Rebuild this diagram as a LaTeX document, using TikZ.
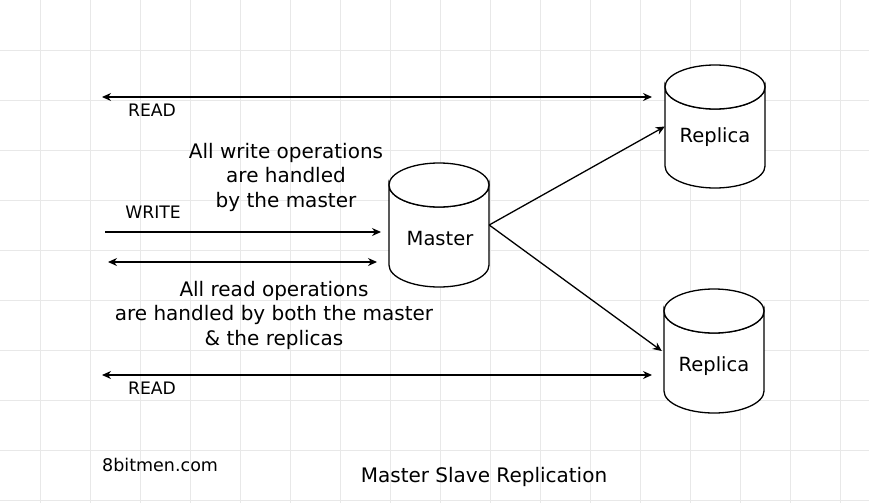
\documentclass[tikz,border=0pt]{standalone}
\usepackage{fontspec}
\setmainfont{DejaVu Sans}
\usetikzlibrary{arrows.meta}
\begin{document}
\begin{tikzpicture}[x=1pt,y=-1pt,
  gridline/.style={draw=black!9,line width=0.8pt},
  conn/.style={draw=black,line width=1.3pt,-{Stealth[length=9pt,width=8pt]}},
  dconn/.style={draw=black,line width=1.3pt,{Stealth[length=9pt,width=8pt]}-{Stealth[length=9pt,width=8pt]}},
  cyl/.style={draw=black,line width=1.3pt,fill=white},
  lbl/.style={font=\fontsize{17.2}{20}\selectfont,inner sep=0pt},
  note/.style={font=\fontsize{20}{24.5}\selectfont,align=center,inner sep=0pt},
  dblbl/.style={font=\fontsize{19.5}{24}\selectfont,inner sep=0pt},
  dbbox/.style={minimum width=100pt,minimum height=124pt,inner sep=0pt,draw=none}]
\useasboundingbox (0,0) rectangle (869,503);
\fill[white] (0,0) rectangle (869,503);
% grid
\foreach \gx in {40,90,...,840} {\draw[gridline] (\gx,0) -- (\gx,503);}
\foreach \gy in {50,100,...,500} {\draw[gridline] (0,\gy) -- (869,\gy);}
% cylinders
\newcommand{\dbcyl}[3]{% center x, top y, bottom y
  \path[cyl] (#1-50,#2+22) -- (#1-50,#3-22) arc[start angle=180,end angle=360,x radius=50,y radius=-22] -- (#1+50,#2+22) arc[start angle=0,end angle=180,x radius=50,y radius=22] -- cycle;
  \draw[cyl] (#1,#2+22) ellipse[x radius=50,y radius=22];
}
\dbcyl{439}{163}{287}
\dbcyl{715}{65}{188}
\dbcyl{714}{289}{413}
\node[dbbox] (master) at (439,225) {};
\node[dbbox] (rep1) at (715,126.5) {};
\node[dbbox] (rep2) at (714,351) {};
\node[dblbl] (masterlbl) at (440,239) {Master};
\node[dblbl] (rep1lbl) at (715,137) {Replica};
\node[dblbl] (rep2lbl) at (714,366) {Replica};
% connectors
\draw[conn] (master.east) -- (rep1.west);
\draw[conn] (master.east) -- ([xshift=-2pt]rep2.west);
\coordinate (r1a) at (102,97);
\coordinate (r1b) at (652,97);
\coordinate (r2a) at (102,375);
\coordinate (r2b) at (652,375);
\coordinate (wa) at (105,232);
\coordinate (wb) at (381,232);
\coordinate (da) at (108,262);
\coordinate (db) at (377,262);
\draw[dconn] (r1a) -- (r1b);
\draw[dconn] (r2a) -- (r2b);
\draw[conn] (wa) -- (wb);
\draw[dconn] (da) -- (db);
% labels
\node[lbl] (read1) at (152,110) {READ};
\node[lbl] (read2) at (152,388) {READ};
\node[lbl] (write) at (153,212) {WRITE};
\node[note] (wnote) at (286,177) {All write operations\\are handled\\by the master};
\node[note] (rnote) at (274,315) {All read operations\\are handled by both the master\\\& the replicas};
\node[font=\fontsize{17.5}{20}\selectfont,inner sep=0pt,anchor=west] (site) at (102,465) {8bitmen.com};
\node[note] (title) at (484,477) {Master Slave Replication};
\end{tikzpicture}
\end{document}
